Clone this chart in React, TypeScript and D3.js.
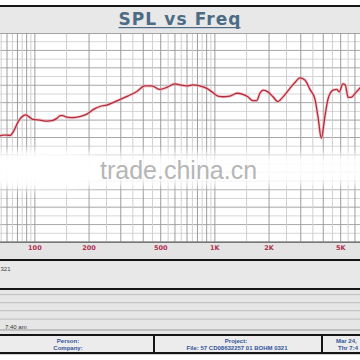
import React from 'react';
import * as d3 from 'd3';

// Frequency response data (Hz, dB SPL)
const FREQ = [63, 66.7, 69.7, 72.7, 75.8, 79.1, 82.5, 86.1, 89.1, 92.6, 97.5, 106.6, 116.6, 125.9, 132.5, 138.6, 143.1, 148.6, 160.5, 177.8, 194.5, 215.4, 229.7, 251.2, 296.5, 328, 368.4, 408.4, 446.7, 495, 541, 599.5, 638, 699, 755, 825, 902, 975, 1040, 1110, 1212, 1326, 1429, 1524, 1624, 1710, 1778, 1860, 1970, 2103, 2239, 2385, 2610, 2818, 2964, 3162, 3374, 3594, 3740, 3903, 4084, 4260, 4540, 4750, 4910, 5140, 5300, 5500, 5750, 6110, 6450];
const SPL = [80.4, 80.7, 80.7, 80.6, 81.6, 83.6, 85.3, 86.2, 86.5, 86.0, 85.2, 85.0, 84.7, 84.9, 85.5, 86.3, 86.3, 85.9, 85.7, 86.0, 86.7, 88.3, 88.9, 89.3, 90.9, 91.9, 93.2, 94.8, 94.8, 93.8, 94.4, 95.4, 95.1, 94.8, 95.1, 94.8, 94.1, 92.9, 91.9, 91.7, 91.9, 92.7, 92.4, 91.7, 90.6, 90.6, 92.7, 93.6, 93.1, 91.7, 90.3, 91.6, 94.1, 96.1, 97.1, 96.5, 93.8, 91.1, 85.9, 79.8, 86.0, 91.2, 93.6, 93.8, 93.1, 95.4, 95.1, 91.5, 91.6, 93.1, 94.4];

const AXIS_TICKS = [100, 200, 500, 1000, 2000, 5000];
const AXIS_LABELS = ['100', '200', '500', '1K', '2K', '5K'];
const GRID_DECADES = [10, 100, 1000];
const GRID_STEPS = [1, 1.5, 2, 2.5, 3, 3.5, 4, 4.5, 5, 5.5, 6, 6.5, 7, 7.5, 8, 8.5, 9, 9.5];
const DB_MIN = 50;
const DB_MAX = 110;
const DB_MAJOR = 5;

const TITLE = 'SPL vs Freq';
const FILE_TEXT = 'File: 57 CD08632257 01 BOHM  0321';

export default function App() {
  const W = 360;
  const H = 360;
  const plotTop = 33;
  const plotBottom = 242;
  const x = d3.scaleLog().domain([64, 6400]).range([0, 360]);
  const y = d3.scaleLinear().domain([DB_MIN, DB_MAX]).range([plotBottom, plotTop]);

  const gridF: { f: number; major: boolean }[] = [];
  GRID_DECADES.forEach((d) =>
    GRID_STEPS.forEach((s) => {
      const f = d * s;
      if (f >= 64 && f <= 6400) gridF.push({ f, major: Number.isInteger(s) });
    })
  );
  const gridDb: { v: number; major: boolean }[] = [];
  for (let v = DB_MIN; v <= DB_MAX; v += DB_MAJOR / 2) {
    gridDb.push({ v, major: (v - DB_MIN) % DB_MAJOR === 0 });
  }

  const pts = FREQ.map((f, i) => [f, SPL[i]] as [number, number]);
  const line = d3
    .line<[number, number]>()
    .x((d) => x(d[0]))
    .y((d) => y(d[1]))
    .curve(d3.curveMonotoneX);
  const path = line(pts) || '';

  const sans = 'Liberation Sans, Arial, sans-serif';
  const blue = '#34549a';

  return (
    <svg
      width={W}
      height={H}
      style={{ position: 'absolute', left: 0, top: 0, background: '#fff' }}
      fontFamily={sans}
    >
      <defs>
        <filter id="soft" x="-20%" y="-50%" width="140%" height="200%">
          <feGaussianBlur stdDeviation="5" />
        </filter>
        <clipPath id="plotClip">
          <rect x={0} y={plotTop} width={W} height={plotBottom - plotTop} />
        </clipPath>
      </defs>
      <rect x={0} y={0} width={W} height={H} fill="#fff" />

      {/* title bar */}
      <rect x={0} y={5} width={W} height={2} fill="#151515" />
      <rect x={0} y={7} width={W} height={26} fill="#e8e8e8" />
      <text
        x={179.5}
        y={25}
        textAnchor="middle"
        fontSize={17}
        fontWeight="bold"
        fill="#4c6b84"
        fontFamily="DejaVu Sans, Verdana, sans-serif"
        textLength={122}
        lengthAdjust="spacing"
      >
        {TITLE}
      </text>
      <rect x={118.5} y={27} width={122} height={1.2} fill="#4c6b84" />

      {/* plot area */}
      <rect x={0} y={plotTop} width={W} height={plotBottom - plotTop} fill="#fff" />
      <g clipPath="url(#plotClip)">
        {gridDb.map((g, i) => (
          <line
            key={'h' + i}
            x1={0}
            x2={W}
            y1={y(g.v)}
            y2={y(g.v)}
            stroke={g.major ? '#a6a6a6' : '#d6d6d6'}
            strokeWidth={1}
          />
        ))}
        {gridF.map((g, i) => (
          <line
            key={'v' + i}
            x1={x(g.f)}
            x2={x(g.f)}
            y1={plotTop}
            y2={plotBottom}
            stroke={g.major ? '#9c9c9c' : '#cfcfcf'}
            strokeWidth={1}
          />
        ))}
        {/* watermark haze */}
        <rect x={-30} y={153} width={W + 60} height={32} fill="#fff" opacity={0.92} filter="url(#soft)" />
        <ellipse cx={45} cy={170} rx={60} ry={20} fill="#fff" opacity={0.9} filter="url(#soft)" />
        <path d={path} fill="none" stroke="#eeb0b6" strokeWidth={3} opacity={0.7} />
        <path d={path} fill="none" stroke="#b42c3c" strokeWidth={1.3} />
      </g>
      <rect x={0} y={plotTop} width={W} height={0.8} fill="#999" />
      <text x={100} y={179} fontSize={25} fill="#b6b6b6" fontFamily={sans}>
        trade.china.cn
      </text>

      {/* axis band */}
      <rect x={0} y={plotBottom} width={W} height={17} fill="#e4e4e4" />
      <rect x={0} y={plotBottom - 0.5} width={W} height={1.5} fill="#777" />
      {AXIS_TICKS.map((t, i) => (
        <text
          key={'t' + i}
          x={x(t)}
          y={249.5}
          textAnchor="middle"
          fontSize={6.5}
          fontWeight="bold"
          fill="#b03052"
          fontFamily="DejaVu Sans, Verdana, sans-serif"
        >
          {AXIS_LABELS[i]}
        </text>
      ))}

      {/* info panel */}
      <rect x={0} y={259} width={W} height={2.2} fill="#151515" />
      <rect x={0} y={261} width={W} height={27} fill="#e8e8e8" />
      <text x={0.5} y={271} fontSize={6} fill="#444">
        321
      </text>
      <rect x={0} y={288} width={W} height={2.2} fill="#151515" />
      <rect x={0} y={290} width={W} height={44} fill="#e6e6e6" />
      {[294, 302, 310, 318.5].map((ly, i) => (
        <rect key={'r' + i} x={0} y={ly} width={W} height={1.2} fill="#c4c4c4" />
      ))}
      <rect x={0} y={329.5} width={W} height={1} fill="#9a9a9a" />
      <text x={5} y={328.5} fontSize={6} fill="#333">
        7:40 am
      </text>
      <rect x={0} y={334} width={W} height={2.2} fill="#151515" />
      <rect x={0} y={336} width={W} height={16} fill="#ececec" />
      <rect x={153} y={336} width={2} height={16} fill="#151515" />
      <rect x={321} y={336} width={2} height={16} fill="#151515" />
      <g fontSize={6} fontWeight="bold" fill={blue} textAnchor="middle">
        <text x={68} y={342.5}>Person:</text>
        <text x={68} y={349.5}>Company:</text>
        <text x={236} y={342.5}>Project:</text>
        <text x={237} y={349.5}>{FILE_TEXT}</text>
      </g>
      <g fontSize={6} fontWeight="bold" fill={blue}>
        <text x={336} y={342.5}>Mar 24,</text>
        <text x={338} y={349.5}>Thr 7:4</text>
      </g>
      <rect x={0} y={352} width={W} height={2.2} fill="#151515" />
    </svg>
  );
}
